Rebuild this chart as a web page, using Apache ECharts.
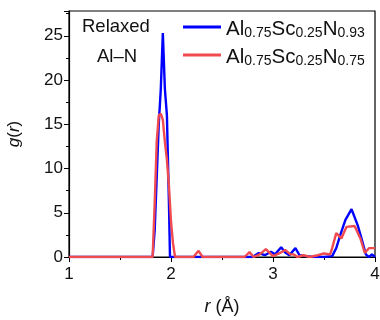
<!DOCTYPE html>
<html>
<head>
<meta charset="utf-8">
<script src="https://cdn.jsdelivr.net/npm/echarts@6/dist/echarts.min.js"></script>
<style>
  html, body { margin: 0; padding: 0; background: #fff; }
  #chart { width: 380px; height: 320px; }
</style>
</head>
<body>
<div id="chart"></div>
<script>
// g(r) for Al-N pairs
const rBlue = [1, 1.82, 1.84, 1.86, 1.88, 1.90, 1.92, 1.94, 1.96, 1.98, 1.99, 2.80, 2.86, 2.92, 2.98, 3.02, 3.08, 3.12, 3.16, 3.22, 3.26, 3.32, 3.40, 3.50, 3.58, 3.62, 3.66, 3.71, 3.77, 3.83, 3.87, 3.91, 3.94, 3.97, 4.0];
const gBlue = [0, 0, 3, 9, 15, 19, 25.3, 19, 16, 6, 0, 0, 0.45, 0.2, 0.6, 0.3, 1.1, 0.5, 0.2, 1.0, 0.2, 0.1, 0, 0, 0.1, 1.0, 2.5, 4.2, 5.4, 3.6, 2.0, 0.3, 0, 0.3, 0];
const rRed = [1, 1.82, 1.84, 1.86, 1.88, 1.90, 1.92, 1.94, 1.96, 1.98, 2.00, 2.02, 2.04, 2.22, 2.27, 2.31, 2.72, 2.77, 2.81, 2.87, 2.93, 3.00, 3.06, 3.12, 3.17, 3.20, 3.24, 3.30, 3.36, 3.44, 3.50, 3.56, 3.58, 3.62, 3.67, 3.72, 3.80, 3.86, 3.90, 3.94, 4.0];
const gRed = [0, 0, 6, 13, 16, 16.2, 15.5, 13, 11, 8, 4, 1.5, 0, 0, 0.7, 0, 0, 0.55, 0, 0.3, 0.9, 0.1, 0.4, 0.8, 0.3, 0.3, 0, 0.2, 0, 0.2, 0.4, 0.3, 1.0, 2.7, 2.1, 3.4, 3.5, 2.0, 0.45, 1.0, 1.0];
const xTicks = [1, 2, 3, 4];
const yTicks = [0, 5, 10, 15, 20, 25];
const seriesNames = ['Al0.75Sc0.25N0.93', 'Al0.75Sc0.25N0.75'];
const subs = [['0.75', '0.25', '0.93'], ['0.75', '0.25', '0.75']];

const zip = (xs, ys) => xs.map((x, i) => [x, ys[i]]);
const font = 'Liberation Sans, Arial, sans-serif';

const chart = echarts.init(document.getElementById('chart'));
chart.setOption({
  animation: false,
  backgroundColor: '#fff',
  grid: {
    left: 69, right: 5, top: 11, bottom: 63,
    outerBoundsMode: 'none', containLabel: false,
    show: true, borderColor: '#000', borderWidth: 1.2
  },
  legend: {
    orient: 'vertical',
    left: 178, top: 14,
    itemWidth: 38, itemHeight: 3, itemGap: 7,
    icon: 'rect',
    textStyle: {
      fontFamily: font, color: '#111',
      rich: {
        a: { fontSize: 20.5, fontFamily: font, color: '#111', lineHeight: 26, verticalAlign: 'bottom' },
        s: { fontSize: 14, fontFamily: font, color: '#111', lineHeight: 18, verticalAlign: 'bottom' }
      }
    },
    formatter: name => {
      const s = subs[seriesNames.indexOf(name)];
      return `{a|Al}{s|${s[0]}}{a|Sc}{s|${s[1]}}{a|N}{s|${s[2]}}`;
    },
    data: seriesNames
  },
  graphic: [
    { type: 'text', left: 82, top: 17, style: { text: 'Relaxed', font: `18.5px ${font}`, fill: '#111' } },
    { type: 'text', left: 97, top: 47, style: { text: 'Al–N', font: `18.5px ${font}`, fill: '#111' } }
  ],
  xAxis: {
    type: 'value', min: 1, max: 4, interval: 1,
    name: '{i|r} (Å)', nameLocation: 'middle', nameGap: 41,
    nameTextStyle: {
      fontSize: 18, fontFamily: font, color: '#111',
      rich: { i: { fontStyle: 'italic', fontSize: 18, fontFamily: font, color: '#111' } }
    },
    axisLine: { onZero: false, lineStyle: { color: '#000', width: 1.2 } },
    axisTick: { length: 5, lineStyle: { color: '#000' } },
    minorTick: { show: true, splitNumber: 2, length: 3, lineStyle: { color: '#000' } },
    axisLabel: {
      fontSize: 17, fontFamily: font, color: '#111', margin: 9,
      formatter: v => xTicks.includes(v) ? String(v) : ''
    },
    splitLine: { show: false }
  },
  yAxis: {
    type: 'value', min: 0, max: 27.8, interval: 5,
    name: '{i|g}({i|r})', nameLocation: 'middle', nameGap: 46, nameRotate: 90,
    nameTextStyle: {
      fontSize: 17, fontFamily: font, color: '#111',
      rich: { i: { fontStyle: 'italic', fontSize: 17, fontFamily: font, color: '#111' } }
    },
    axisLine: { show: true, lineStyle: { color: '#000', width: 1.2 } },
    axisTick: { length: 5, lineStyle: { color: '#000' } },
    minorTick: { show: true, splitNumber: 2, length: 3, lineStyle: { color: '#000' } },
    axisLabel: {
      fontSize: 17, fontFamily: font, color: '#111', margin: 6,
      formatter: v => yTicks.includes(v) ? String(v) : ''
    },
    splitLine: { show: false }
  },
  series: [
    {
      name: seriesNames[0], type: 'line', data: zip(rBlue, gBlue),
      showSymbol: false, itemStyle: { color: '#0000ff' },
      lineStyle: { color: '#0000ff', width: 2.4 }, z: 2
    },
    {
      name: seriesNames[1], type: 'line', data: zip(rRed, gRed),
      showSymbol: false, itemStyle: { color: '#f04a4e' },
      lineStyle: { color: '#f04a4e', width: 2.4 }, z: 3
    }
  ]
});
</script>
</body>
</html>
